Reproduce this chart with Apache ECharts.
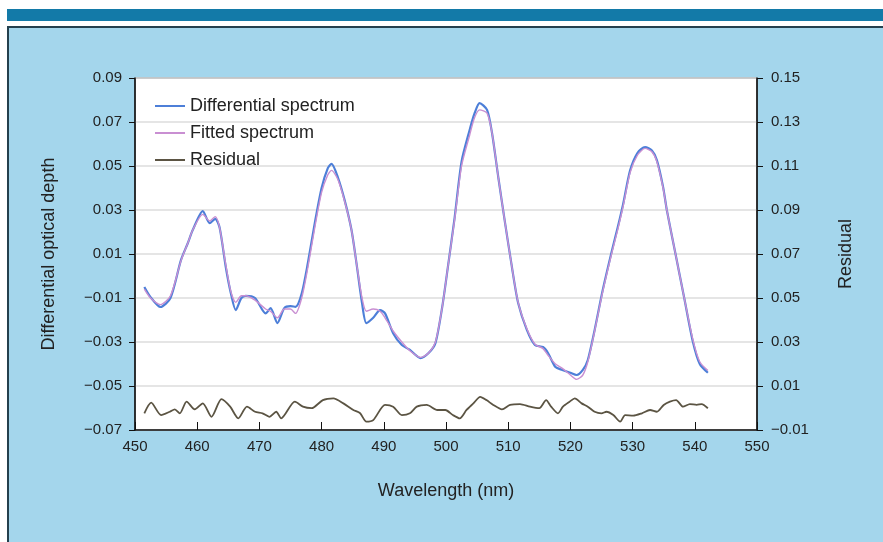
<!DOCTYPE html>
<html>
<head>
<meta charset="utf-8">
<script src="https://cdn.jsdelivr.net/npm/echarts@6/dist/echarts.min.js"></script>
<style>
	html, body { margin: 0; padding: 0; background: #fff; }
	#chart { width: 883px; height: 542px; }
</style>
</head>
<body>
<div id="chart"></div>
<script>
// wavelength grid for the spectra (nm)
var wavelength = [451.5, 452.5, 454.1, 455.7, 457.4, 458.5, 459.3, 460.9, 462.0, 462.9, 463.6, 464.6, 465.4, 466.2, 467.1, 467.8, 469.3, 471.0, 471.8, 472.9,
	474.0, 475.0, 475.8, 476.8, 477.8, 478.9, 480.0, 481.0, 481.6, 482.6, 483.7, 484.8, 485.6, 486.5, 487.2, 488.3, 489.4, 490.2, 491.5, 492.9,
	494.2, 495.9, 497.2, 498.3, 499.4, 500.3, 501.4, 502.5, 503.8, 504.6, 505.4, 506.6, 507.4, 508.4, 509.5, 510.6, 511.6, 513.0, 514.3, 515.6,
	516.4, 517.6, 518.7, 520.0, 521.0, 522.0, 522.8, 523.9, 525.2, 526.7, 527.6, 528.5, 529.6, 530.8, 532.0, 533.1, 533.9, 534.9, 535.5, 536.9,
	538.3, 539.7, 540.8, 542.1];

var differential = [-0.005, -0.0096, -0.0141, -0.010, 0.0073, 0.015, 0.021, 0.0295, 0.024, 0.026, 0.022, 0.004, -0.0077, -0.0155, -0.010, -0.009, -0.010, -0.017, -0.0146, -0.0214,
	-0.0146, -0.0137, -0.014, -0.008, 0.006, 0.024, 0.040, 0.049, 0.051, 0.045, 0.0345, 0.021, 0.006, -0.0123, -0.0214, -0.019, -0.0155, -0.017, -0.026, -0.0314,
	-0.0336, -0.0373, -0.035, -0.0305, -0.014, 0.004, 0.0268, 0.052, 0.0664, 0.074, 0.0786, 0.0755, 0.065, 0.045, 0.024, 0.004, -0.0123, -0.0245, -0.0314, -0.0323,
	-0.035, -0.0414, -0.0427, -0.044, -0.045, -0.0427, -0.0382, -0.0245, -0.0064, 0.0118, 0.022, 0.033, 0.048, 0.056, 0.0586, 0.057, 0.0527, 0.0405, 0.03, 0.01,
	-0.01, -0.03, -0.04, -0.044];

var fitted = [-0.006, -0.010, -0.013, -0.009, 0.007, 0.015, 0.021, 0.028, 0.025, 0.027, 0.022, 0.005, -0.007, -0.012, -0.009, -0.009, -0.011, -0.015, -0.016, -0.019,
	-0.015, -0.015, -0.017, -0.010, 0.004, 0.022, 0.038, 0.046, 0.048, 0.044, 0.034, 0.021, 0.006, -0.010, -0.016, -0.015, -0.016, -0.019, -0.025, -0.030,
	-0.034, -0.037, -0.035, -0.030, -0.014, 0.004, 0.026, 0.050, 0.064, 0.072, 0.0755, 0.074, 0.065, 0.045, 0.024, 0.004, -0.012, -0.024, -0.031, -0.033,
	-0.036, -0.040, -0.042, -0.045, -0.047, -0.045, -0.039, -0.025, -0.007, 0.011, 0.021, 0.032, 0.047, 0.055, 0.058, 0.0565, 0.052, 0.040, 0.030, 0.010,
	-0.010, -0.029, -0.039, -0.043];

// residual has its own sampling
var residualWavelength = [451.5, 452.6, 454.2, 455.6, 456.4, 457.2, 458.3, 459.6, 460.9, 462.3, 463.9, 465.3, 466.6, 468.0, 469.3, 470.5, 471.6, 472.7, 473.5, 475.7,
	477.0, 478.4, 480.2, 481.9, 483.5, 485.1, 486.2, 487.2, 488.3, 490.2, 491.5, 492.9, 494.2, 495.3, 496.9, 498.6, 499.9, 501.1, 502.2, 503.3,
	504.4, 505.5, 506.5, 507.6, 509.0, 510.3, 511.9, 513.5, 515.0, 516.1, 516.9, 518.0, 518.8, 519.9, 520.7, 521.8, 522.8, 523.9, 525.0, 525.8,
	526.9, 528.0, 528.8, 530.1, 531.5, 532.8, 533.9, 535.0, 536.0, 537.0, 538.1, 539.2, 540.3, 541.1, 542.1];

var residual = [-0.0024, 0.0024, -0.0032, -0.0017, -0.0006, -0.0024, 0.0029, -0.0006, 0.0021, -0.004, 0.004, 0.0006, -0.0047, 0.0006, -0.0017, -0.0024, -0.004, -0.0017, -0.0047, 0.0029,
	0.0006, -0.0001, 0.0036, 0.0044, 0.0021, -0.0009, -0.0024, -0.0062, -0.0055, 0.0014, 0.0006, -0.0032, -0.0024, 0.0006, 0.0014, -0.0009, -0.0009, -0.0032, -0.0047, -0.0009,
	0.0021, 0.0051, 0.0036, 0.0014, -0.0006, 0.0014, 0.0018, 0.0006, -0.0001, 0.0036, 0.0006, -0.0024, 0.0006, 0.0029, 0.0044, 0.0021, 0.0006, -0.0017, -0.0024, -0.0017,
	-0.0032, -0.0062, -0.0032, -0.0035, -0.0024, -0.0009, -0.0017, 0.0014, 0.0029, 0.0036, 0.0006, 0.0018, 0.0014, 0.0018, -0.0001];

var seriesNames = ['Differential spectrum', 'Fitted spectrum', 'Residual'];
var seriesColors = ['#4d7fd8', '#c98fd2', '#5b5443'];

function pairs(xs, ys) {
	var out = [];
	for (var i = 0; i < xs.length; i++) {
		out.push([xs[i], ys[i]]);
	}
	return out;
}

function tickText(v) {
	return v.toFixed(2).replace('-', '\u2212');
}

var font = "'Liberation Sans', Arial, sans-serif";
var labelStyle = { color: '#222', fontSize: 15, fontFamily: font };
var nameStyle = { color: '#222', fontSize: 18, fontFamily: font };

var chart = echarts.init(document.getElementById('chart'), null, { renderer: 'canvas' });

var option = {
	backgroundColor: '#a4d6ec',
	animation: false,
	textStyle: { fontFamily: font },
	graphic: [
		{ type: 'rect', shape: { x: 0, y: 0, width: 883, height: 9 }, style: { fill: '#ffffff' } },
		{ type: 'rect', shape: { x: 0, y: 0, width: 7, height: 542 }, style: { fill: '#ffffff' } },
		{ type: 'rect', shape: { x: 7, y: 9, width: 876, height: 12 }, style: { fill: '#137aa8' } },
		{ type: 'rect', shape: { x: 7, y: 21, width: 876, height: 5 }, style: { fill: '#ffffff' } },
		{ type: 'rect', shape: { x: 7, y: 26, width: 876, height: 2 }, style: { fill: '#24404e' } },
		{ type: 'rect', shape: { x: 7, y: 26, width: 2, height: 516 }, style: { fill: '#24404e' } }
	],
	grid: {
		left: 135,
		top: 78,
		width: 622,
		height: 352,
		show: true,
		backgroundColor: '#ffffff',
		borderColor: '#333',
		borderWidth: 1
	},
	legend: {
		data: seriesNames,
		orient: 'vertical',
		left: 150,
		top: 92,
		itemWidth: 30,
		itemHeight: 2,
		itemGap: 9,
		icon: 'rect',
		textStyle: { color: '#222', fontSize: 18, fontFamily: font }
	},
	xAxis: {
		type: 'value',
		min: 450,
		max: 550,
		interval: 10,
		name: 'Wavelength (nm)',
		nameLocation: 'middle',
		nameGap: 52,
		nameTextStyle: nameStyle,
		axisLine: { onZero: false, lineStyle: { color: '#111', width: 1.5 } },
		axisTick: { inside: true, length: 8, lineStyle: { color: '#111' } },
		axisLabel: { margin: 9, color: '#222', fontSize: 15, fontFamily: font },
		splitLine: { show: false }
	},
	yAxis: [
		{
			type: 'value',
			position: 'left',
			min: -0.07,
			max: 0.09,
			interval: 0.02,
			name: 'Differential optical depth',
			nameLocation: 'middle',
			nameRotate: 90,
			nameGap: 77,
			nameTextStyle: nameStyle,
			axisLine: { show: true, onZero: false, lineStyle: { color: '#111', width: 1.5 } },
			axisTick: { show: true, length: 6, lineStyle: { color: '#111' } },
			axisLabel: { margin: 13, formatter: tickText, color: labelStyle.color, fontSize: labelStyle.fontSize, fontFamily: font },
			splitLine: { show: true, lineStyle: { color: '#dcdcdc', width: 1.5 } }
		},
		{
			type: 'value',
			position: 'right',
			min: -0.01,
			max: 0.15,
			interval: 0.02,
			name: 'Residual',
			nameLocation: 'middle',
			nameRotate: 90,
			nameGap: 80,
			nameTextStyle: nameStyle,
			axisLine: { show: true, onZero: false, lineStyle: { color: '#111', width: 1.5 } },
			axisTick: { show: true, length: 6, lineStyle: { color: '#111' } },
			axisLabel: { margin: 14, formatter: tickText, color: labelStyle.color, fontSize: labelStyle.fontSize, fontFamily: font },
			splitLine: { show: false }
		}
	],
	series: [
		{
			name: seriesNames[0],
			type: 'line',
			yAxisIndex: 0,
			data: pairs(wavelength, differential),
			showSymbol: false,
			smooth: 0.25,
			color: seriesColors[0],
			lineStyle: { color: seriesColors[0], width: 2.2 }
		},
		{
			name: seriesNames[1],
			type: 'line',
			yAxisIndex: 0,
			data: pairs(wavelength, fitted),
			showSymbol: false,
			smooth: 0.25,
			color: seriesColors[1],
			lineStyle: { color: seriesColors[1], width: 1.4 }
		},
		{
			name: seriesNames[2],
			type: 'line',
			yAxisIndex: 1,
			data: pairs(residualWavelength, residual),
			showSymbol: false,
			smooth: 0.25,
			color: seriesColors[2],
			lineStyle: { color: seriesColors[2], width: 1.8 }
		}
	]
};

chart.setOption(option);
</script>
</body>
</html>
